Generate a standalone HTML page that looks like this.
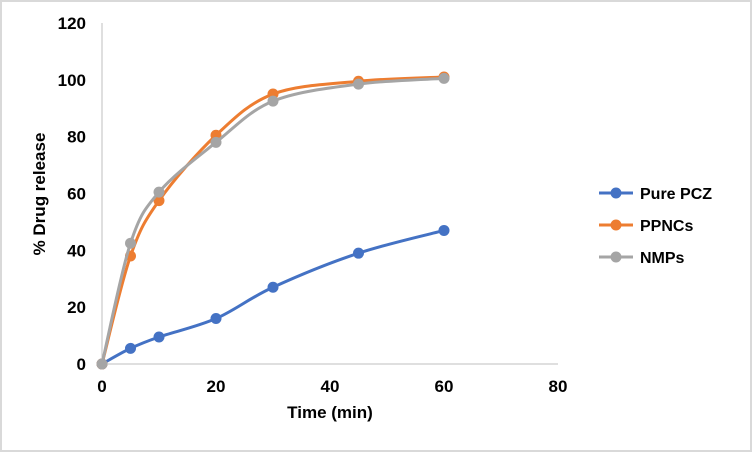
<!DOCTYPE html>
<html><head><meta charset="utf-8"><style>
html,body{margin:0;padding:0;background:#fff}
svg{display:block;font-family:"Liberation Sans",Arial,sans-serif}
</style></head><body>
<svg id="chart" width="752" height="452">
<rect x="1" y="1" width="750" height="450" fill="#fff" stroke="#d9d9d9" stroke-width="2"/>
<g id="axes"></g><g id="plot"></g><g id="legend"></g>
</svg>
<script>
const xValues=[0,5,10,20,30,45,60];
const pureValues=[0,5.5,9.5,16,27,39,47];
const ppncValues=[0,38,57.5,80.5,95,99.5,101];
const nmpValues=[0,42.5,60.5,78,92.5,98.5,100.5];
const seriesNames=["Pure PCZ","PPNCs","NMPs"];
const xTicks=[0,20,40,60,80];
const yTicks=[0,20,40,60,80,100,120];
const NS="http://www.w3.org/2000/svg";
const X=v=>102+v*5.7, Y=v=>364-v*(341/120);
function mk(tag,attrs,parent,text){const e=document.createElementNS(NS,tag);for(const k in attrs)e.setAttribute(k,attrs[k]);if(text!==undefined)e.textContent=text;parent.appendChild(e);return e;}
const axes=document.getElementById('axes'),plot=document.getElementById('plot'),legend=document.getElementById('legend');
let l=mk('line',{x1:X(0),x2:X(0),y1:Y(120),y2:Y(0),stroke:'#bfbfbf','stroke-width':1},axes);


l=mk('line',{x1:X(0),x2:X(80),y1:Y(0),y2:Y(0),stroke:'#bfbfbf','stroke-width':1},axes);


yTicks.forEach(t=>{const e=mk('text',{x:86,y:Y(t)+6,'text-anchor':'end','font-size':17,'font-weight':'bold',fill:'#000'},axes,t);

});
xTicks.forEach(t=>{const e=mk('text',{x:X(t),y:392,'text-anchor':'middle','font-size':17,'font-weight':'bold',fill:'#000'},axes,t);

});
let e=mk('text',{x:330,y:418,'text-anchor':'middle','font-size':17,'font-weight':'bold'},axes,'Time (min)');


e=mk('text',{x:0,y:0,transform:'translate(45,194) rotate(-90)','text-anchor':'middle','font-size':17,'font-weight':'bold'},axes,'% Drug release');


function smooth(pts){let d=`M${pts[0][0]},${pts[0][1]}`;for(let i=0;i<pts.length-1;i++){const p0=pts[Math.max(i-1,0)],p1=pts[i],p2=pts[i+1],p3=pts[Math.min(i+2,pts.length-1)];const t=1/6;d+=` C${p1[0]+(p2[0]-p0[0])*t},${p1[1]+(p2[1]-p0[1])*t} ${p2[0]-(p3[0]-p1[0])*t},${p2[1]-(p3[1]-p1[1])*t} ${p2[0]},${p2[1]}`;}return d;}
const series=[[pureValues,'#4472c4','pure-pcz'],[ppncValues,'#ed7d31','ppncs'],[nmpValues,'#a5a5a5','nmps']];
series.forEach(([vals,col,nm],si)=>{
 const pts=vals.map((v,i)=>[X(xValues[i]),Y(v)]);
 const p=mk('path',{d:smooth(pts),fill:'none',stroke:col,'stroke-width':3},plot);
 
 
 pts.forEach(q=>{const c=mk('circle',{cx:q[0],cy:q[1],r:5.5,fill:col},plot);
 
 });
 const ly=193+si*32;
 const g=mk('g',{},legend);
 
 
 mk('line',{x1:599,x2:633,y1:ly,y2:ly,stroke:col,'stroke-width':3},g);
 mk('circle',{cx:616,cy:ly,r:5.5,fill:col},g);
 mk('text',{x:640,y:ly+6,'font-size':16,'font-weight':'bold'},g,seriesNames[si]);
});
</script>
</body></html>
